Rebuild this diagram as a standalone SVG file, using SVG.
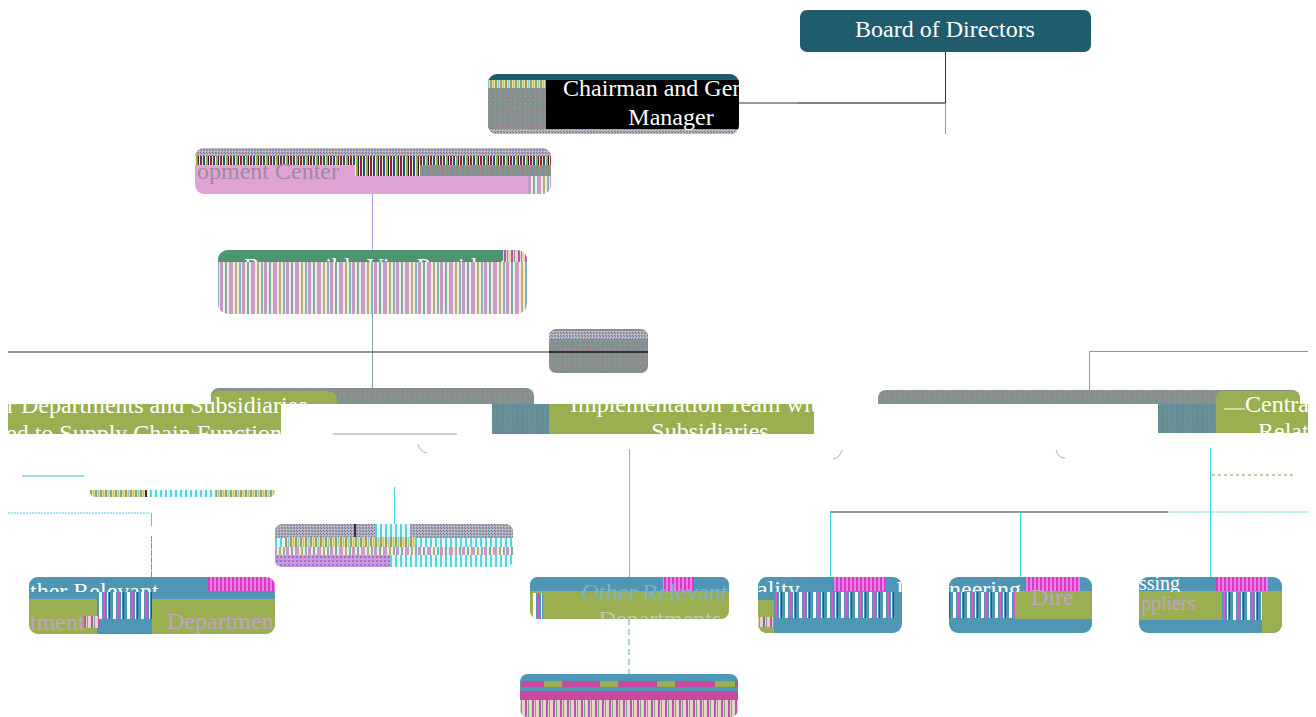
<svg xmlns="http://www.w3.org/2000/svg" width="1316" height="717" viewBox="0 0 1316 717">
<style>
.t{font-family:"Liberation Serif","Times New Roman",serif;font-size:24px;fill:#fff}
.m{text-anchor:middle}
.c{fill:none;stroke-width:1}
.d{stroke:#333}.g{stroke:#879d9a}.y{stroke:#45d3e3}.v{stroke:#b79bd8}.p{stroke:#e05ad8}.b{stroke:#58a5c9}.a{stroke:#a8b0b0}
.gr{fill:#9ab050}.bl{fill:#4e96b4}.te{fill:#1f5c6e}.pk{fill:#e0a4d4}
.li{fill:#c2a2c8}
</style>
<defs>
<pattern id="noise" width="5" height="7" patternUnits="userSpaceOnUse"><rect width="5" height="7" fill="#85918f"/><rect width="1" height="1" fill="#a77fa9"/><rect x="2" y="1" width="1" height="1" fill="#6f9a8c"/><rect x="4" y="2" width="1" height="1" fill="#a59a8a"/><rect x="1" y="3" width="1" height="1" fill="#9a7f9f"/><rect x="3" y="4" width="1" height="1" fill="#6c9f90"/><rect x="0" y="5" width="1" height="1" fill="#b09a80"/><rect x="2" y="6" width="1" height="1" fill="#94789c"/></pattern>
<pattern id="noiset" width="5" height="5" patternUnits="userSpaceOnUse"><rect width="5" height="5" fill="#648f96"/><rect width="1" height="1" fill="#8d8d8d"/><rect x="2" y="2" width="1" height="1" fill="#5a8490"/><rect x="4" y="3" width="1" height="1" fill="#7d9a8d"/></pattern>
<pattern id="multi" width="10" height="12" patternUnits="userSpaceOnUse"><rect width="10" height="12" fill="#eee"/><rect width="2" height="12" fill="#9c1f3a"/><rect x="3" width="2" height="12" fill="#1f4f8a"/><rect x="6" width="2" height="12" fill="#9bb03a"/><rect x="8" width="1" height="12" fill="#222"/></pattern>
<pattern id="dither" width="3" height="3" patternUnits="userSpaceOnUse"><rect width="3" height="3" fill="#b5a7c5"/><rect width="1" height="1" fill="#5f8f78"/><rect x="1" y="1" width="1" height="1" fill="#d8d0a8"/><rect x="2" y="2" width="1" height="1" fill="#6c7f9a"/></pattern>
<pattern id="lilac" width="22" height="8" patternUnits="userSpaceOnUse"><rect width="22" height="8" fill="#f0ece0"/><rect width="3" height="8" fill="#c597c2"/><rect x="5" width="2" height="8" fill="#7fa8a8"/><rect x="9" width="4" height="8" fill="#cc9cc8"/><rect x="15" width="2" height="8" fill="#b7b074"/><rect x="19" width="2" height="8" fill="#7fb4ba"/></pattern>
<pattern id="cy" width="5" height="6" patternUnits="userSpaceOnUse"><rect width="5" height="6" fill="#eaf7f7"/><rect width="2" height="6" fill="#54d4e4"/></pattern>
<pattern id="yel" width="5" height="5" patternUnits="userSpaceOnUse"><rect width="5" height="5" fill="#e7e29a"/><rect width="2" height="5" fill="#9fa060"/><rect x="3" width="1" height="5" fill="#7fd0d8"/></pattern>
<pattern id="pur" width="4" height="4" patternUnits="userSpaceOnUse"><rect width="4" height="4" fill="#c79ade"/><rect width="2" height="2" fill="#a668c8"/></pattern>
<pattern id="mag" width="4" height="4" patternUnits="userSpaceOnUse"><rect width="4" height="4" fill="#ef80e8"/><rect width="2" height="4" fill="#d838c8"/></pattern>
<pattern id="bar" width="14" height="4" patternUnits="userSpaceOnUse"><rect width="14" height="4" fill="#4e96b4"/><rect x="1" width="3" height="4" fill="#fff"/><rect x="5" width="2" height="4" fill="#e050d0"/><rect x="9" width="1" height="4" fill="#fff"/><rect x="11" width="1" height="4" fill="#4e3f7f"/></pattern>
<pattern id="pin" width="7" height="4" patternUnits="userSpaceOnUse"><rect width="7" height="4" fill="#e6d3c8"/><rect width="2" height="4" fill="#c050a8"/><rect x="3" width="1" height="4" fill="#6fa888"/></pattern>
<clipPath id="k1"><rect x="488" y="74" width="251" height="60" rx="9"/></clipPath>
<clipPath id="k2"><rect x="195" y="148" width="356" height="46" rx="9"/></clipPath>
<clipPath id="k3"><rect x="218" y="250" width="309" height="64" rx="10"/></clipPath>
<clipPath id="k3t"><rect x="218" y="250" width="309" height="12"/></clipPath>
<clipPath id="k4"><rect x="549" y="329" width="99" height="44" rx="7"/></clipPath>
<clipPath id="k5"><rect x="8" y="404" width="273" height="30"/><rect x="211" y="391" width="126" height="13"/></clipPath>
<clipPath id="k6"><rect x="549" y="404" width="265" height="30"/></clipPath>
<clipPath id="k7"><rect x="1216" y="391" width="92" height="42"/></clipPath>
<clipPath id="k8"><rect x="275" y="524" width="238" height="43" rx="7"/></clipPath>
<clipPath id="k9"><rect x="29" y="577" width="246" height="57" rx="9"/></clipPath>
<clipPath id="k10"><rect x="530" y="577" width="199" height="42" rx="8"/></clipPath>
<clipPath id="k11"><rect x="758" y="577" width="144" height="56" rx="9"/></clipPath>
<clipPath id="k12"><rect x="949" y="577" width="143" height="56" rx="9"/></clipPath>
<clipPath id="k13"><rect x="1139" y="577" width="143" height="56" rx="9"/></clipPath>
<clipPath id="k14"><rect x="520" y="674" width="218" height="43" rx="8"/></clipPath>
<clipPath id="kT"><rect x="0" y="577" width="1316" height="15"/></clipPath>
</defs>
<g id="connectors">
<path class="c d" d="M739 103H797"/>
<path class="c a" d="M797 103H945"/>
<path class="c d" d="M945.500 52V103H797"/>
<path class="c g" d="M945.500 103V134"/>
<path class="c v" d="M372.500 194V250"/>
<path class="c g" d="M372.500 314V388"/>
<path class="c d" d="M8 352H549"/>
<path class="c g" d="M1089.500 390V351.500H1308"/>
<path class="c y" d="M394.500 487V524"/>
<path class="c y" stroke-dasharray="2 1" d="M8 513H150"/>
<path class="c y" d="M151.500 513V526"/>
<path class="c p" stroke-dasharray="6 1" d="M151.500 536V577"/>
<path class="c y" d="M629.500 449V577"/>
<path class="c b" stroke-dasharray="6 4" d="M629 619V674"/>
<path class="c d" d="M830 512H1168"/>
<path class="c y" stroke-dasharray="2 1" d="M1168 512H1308"/>
<path class="c y" d="M830.500 512V577M1020.500 512V577M1210.500 448V577"/>
<path class="c" stroke="#8a9a50" stroke-dasharray="3 3" d="M1212 475H1296"/>
<path class="c a" d="M418 444q2 8 9 9M842 450q-2 8-9 9M1056 450q2 8 9 8"/>
</g>
<g id="board"><rect class="te" x="800" y="10" width="291" height="42" rx="7"/><text class="t m" x="945" y="37">Board of Directors</text></g>
<g id="chairman"><g clip-path="url(#k1)"><rect class="te" x="488" y="74" width="251" height="60"/><rect x="488" y="80" width="251" height="54" fill="url(#noise)"/><rect x="488" y="80" width="58" height="8" fill="url(#yel)"/><rect x="546" y="80" width="193" height="50" fill="#000"/><rect x="488" y="129" width="251" height="5" fill="url(#dither)"/><text class="t" x="563" y="96">Chairman and General</text><text class="t m" x="671" y="125">Manager</text></g></g>
<g id="center"><g clip-path="url(#k2)"><rect class="pk" x="195" y="148" width="356" height="46"/><rect x="195" y="148" width="356" height="8" fill="url(#dither)"/><rect x="195" y="156" width="356" height="9" fill="url(#multi)"/><rect x="355" y="165" width="196" height="11" fill="url(#multi)"/><rect x="420" y="165" width="131" height="11" fill="url(#noise)"/><rect x="528" y="176" width="23" height="18" fill="url(#lilac)"/><text class="t" x="197" y="179" style="fill:#9f8aa0">opment Center</text></g></g>
<g id="vp"><g clip-path="url(#k3)"><rect x="218" y="250" width="309" height="64" fill="url(#lilac)"/><rect x="218" y="250" width="285" height="12" fill="#4f9470"/><rect x="503" y="250" width="24" height="12" fill="url(#pin)"/></g><g clip-path="url(#k3t)"><text class="t m" x="375" y="274">Responsible Vice President</text></g></g>
<g id="office"><g clip-path="url(#k4)"><rect x="549" y="329" width="99" height="44" fill="url(#noise)"/><rect x="549" y="331" width="99" height="8" fill="url(#dither)"/><rect x="549" y="351" width="99" height="2" fill="#333"/></g></g>
<g id="supply"><path fill="url(#noise)" d="M211 404V396a8 8 0 0 1 8-8H526a8 8 0 0 1 8 8V404z"/><path class="gr" d="M211 404V399a8 8 0 0 1 8-8H328a9 9 0 0 1 9 9V404z"/><rect class="gr" x="8" y="404" width="273" height="30"/><rect x="492" y="404" width="57" height="30" fill="url(#noiset)"/><path d="M333 434H457" stroke="#a89aa8" stroke-width="1"/><g clip-path="url(#k5)"><text class="t" x="7" y="413">r Departments and Subsidiaries</text><text class="t" x="6" y="441">ed to Supply Chain Functions</text></g></g>
<g id="team"><rect class="gr" x="549" y="404" width="265" height="30"/><g clip-path="url(#k6)"><text class="t" x="570" y="412">Implementation Team with</text><text class="t m" x="710" y="439">Subsidiaries</text></g></g>
<g id="central"><path fill="url(#noise)" d="M878 404V398a8 8 0 0 1 8-8H1292a8 8 0 0 1 8 8V404z"/><rect x="1158" y="404" width="58" height="29" fill="url(#noiset)"/><path class="gr" d="M1216 433V399a8 8 0 0 1 8-8H1292a8 8 0 0 1 8 8V404H1308V433z"/><path d="M1224 409H1245" stroke="#fff"/><g clip-path="url(#k7)"><text class="t" x="1245" y="412">Central</text><text class="t" x="1258" y="439">Relat</text></g></g>
<g id="slice"><path fill="url(#yel)" d="M90 490H275V492a5 5 0 0 1-5 5H95a5 5 0 0 1-5-5z"/><rect x="146" y="490" width="70" height="7" fill="url(#cy)"/><rect x="145" y="490" width="2" height="7" fill="#333"/><rect x="22" y="475" width="62" height="2" fill="#8fdde6"/></g>
<g id="stripe"><g clip-path="url(#k8)"><rect x="275" y="524" width="238" height="43" fill="url(#cy)"/><rect x="275" y="524" width="100" height="14" fill="url(#dither)"/><rect x="410" y="524" width="103" height="14" fill="url(#dither)"/><rect x="354" y="524" width="2" height="14" fill="#333"/><rect x="285" y="537" width="130" height="10" fill="url(#yel)"/><rect x="275" y="547" width="238" height="8" fill="url(#lilac)"/><rect x="275" y="555" width="115" height="12" fill="url(#pur)"/><rect x="390" y="555" width="52" height="12" fill="url(#cy)"/></g></g>
<g id="other-left"><g clip-path="url(#k9)"><rect class="gr" x="29" y="577" width="246" height="57"/><rect class="bl" x="29" y="577" width="180" height="14"/><rect x="208" y="577" width="67" height="14" fill="url(#mag)"/><rect class="bl" x="29" y="591" width="246" height="8"/><rect x="97" y="592" width="55" height="27" fill="url(#bar)"/><rect class="bl" x="97" y="619" width="55" height="15"/><rect x="84" y="616" width="15" height="12" fill="url(#pin)"/><g clip-path="url(#kT)"><text class="t" x="30" y="599">ther Relevant</text></g><text class="t li" style="fill:#c2a2c8" x="30" y="630">tment</text><text class="t" style="fill:#c2a2c8" x="167" y="629">Department</text></g></g>
<g id="other"><g clip-path="url(#k10)"><rect class="gr" x="530" y="577" width="199" height="42"/><rect class="bl" x="530" y="577" width="199" height="14"/><rect x="663" y="577" width="31" height="14" fill="url(#mag)"/><rect x="533" y="593" width="10" height="26" fill="url(#bar)"/><text class="t" style="fill:#7fb0c8" x="582" y="600">Other Relevant</text><text class="t m" style="fill:#c2c7b8" x="660" y="627">Departments</text></g></g>
<g id="quality"><g clip-path="url(#k11)"><rect class="bl" x="758" y="577" width="144" height="56"/><rect x="833" y="577" width="52" height="14" fill="url(#mag)"/><rect class="gr" x="758" y="600" width="16" height="33"/><rect x="775" y="592" width="120" height="26" fill="url(#bar)"/><rect x="758" y="617" width="16" height="10" fill="url(#pin)"/><g clip-path="url(#kT)"><text class="t" x="757" y="597">ality</text><text class="t" x="896" y="597">I</text></g></g></g>
<g id="engineering"><g clip-path="url(#k12)"><rect class="bl" x="949" y="577" width="143" height="56"/><rect x="1025" y="577" width="55" height="14" fill="url(#mag)"/><rect class="gr" x="1015" y="591" width="77" height="28"/><rect x="949" y="592" width="66" height="26" fill="url(#bar)"/><g clip-path="url(#kT)"><text class="t" x="949" y="597">neering</text></g><text class="t" style="fill:#c2a2c8" x="1031" y="605">Dire</text></g></g>
<g id="purchasing"><g clip-path="url(#k13)"><rect class="bl" x="1139" y="577" width="143" height="56"/><rect x="1216" y="577" width="52" height="14" fill="url(#mag)"/><rect class="gr" x="1139" y="591" width="143" height="29"/><rect x="1222" y="592" width="40" height="28" fill="url(#bar)"/><rect class="gr" x="1262" y="620" width="20" height="13"/><g clip-path="url(#kT)"><text class="t" style="font-size:20px" x="1139" y="590">ssing</text></g><text class="t" style="fill:#c2a2c8;font-size:20px" x="1141" y="610">ppliers</text></g></g>
<g id="bottom"><g clip-path="url(#k14)"><rect class="bl" x="520" y="674" width="218" height="43"/><rect x="522" y="681" width="216" height="6" fill="#c84aa0"/><rect x="544" y="681" width="18" height="6" fill="#9ab050"/><rect x="600" y="681" width="18" height="6" fill="#9ab050"/><rect x="657" y="681" width="18" height="6" fill="#9ab050"/><rect x="715" y="681" width="20" height="6" fill="#9ab050"/><rect x="520" y="691" width="218" height="9" fill="#c84aa0"/><rect x="520" y="700" width="218" height="17" fill="url(#pin)"/></g></g>
</svg>
